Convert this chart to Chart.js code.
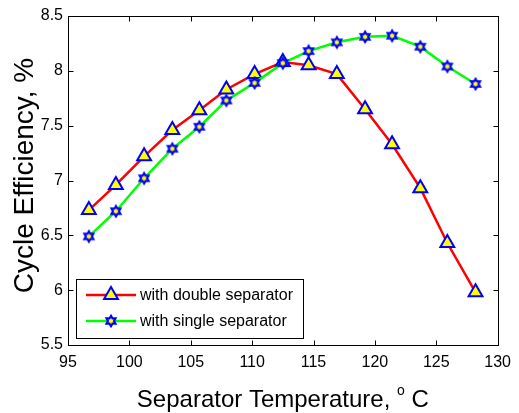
<!DOCTYPE html>
<html lang="en">
<head>
<meta charset="UTF-8">
<title>Cycle Efficiency vs Separator Temperature</title>
<script src="https://cdn.jsdelivr.net/npm/chart.js"></script>
<style>
    html, body { margin: 0; padding: 0; background: #fff; }
    #wrap { width: 519px; height: 413px; }
</style>
</head>
<body>
<div id="wrap"><canvas id="grafico" width="519" height="413"></canvas></div>
<script>
    // temperatures (deg C)
    const temperaturas = [96.7, 98.9, 101.2, 103.5, 105.7, 107.9, 110.2, 112.5, 114.6, 116.9, 119.2, 121.4, 123.7, 125.9, 128.2];
    // cycle efficiency, %
    const duploSeparador = [6.73, 6.96, 7.22, 7.46, 7.64, 7.83, 7.97, 8.08, 8.05, 7.97, 7.65, 7.33, 6.93, 6.43, 5.98];
    const simplesSeparador = [6.49, 6.72, 7.02, 7.29, 7.49, 7.73, 7.89, 8.07, 8.18, 8.26, 8.31, 8.32, 8.22, 8.04, 7.88];
    const nomesSeries = ['with double separator', 'with single separator'];
    const xTicks = [95, 100, 105, 110, 115, 120, 125, 130];
    const yTicks = [5.5, 6, 6.5, 7, 7.5, 8, 8.5];

    const fonte = '"Liberation Sans", Arial, sans-serif';

    // hexagram marker (matlab 'h'): yellow face, thick blue edge
    const criarEstrela = () => {
        const cv = document.createElement('canvas');
        cv.width = 18;
        cv.height = 18;
        const c = cv.getContext('2d');
        const R = 5.2;
        c.beginPath();
        for (let i = 0; i < 12; i++) {
            const ang = -Math.PI / 2 + i * Math.PI / 6;
            const r = i % 2 === 0 ? R : R / Math.sqrt(3);
            const px = 9 + Math.cos(ang) * r;
            const py = 9 + Math.sin(ang) * r;
            if (i === 0) c.moveTo(px, py); else c.lineTo(px, py);
        }
        c.closePath();
        c.fillStyle = '#FFFF00';
        c.fill();
        c.lineWidth = 2.1;
        c.lineJoin = 'miter';
        c.strokeStyle = '#0000FF';
        c.stroke();
        return cv;
    };
    const estrela = criarEstrela();

    const pontos = (ys) => temperaturas.map((t, i) => ({ x: t, y: ys[i] }));

    // box + inward ticks like matlab axes
    const moldura = {
        id: 'moldura',
        beforeDatasetsDraw(chart) {
            const { ctx, chartArea: a, scales } = chart;
            const L = Math.round(a.left) + 0.5, R = Math.round(a.right) + 0.5;
            const T = Math.round(a.top) + 0.5, B = Math.round(a.bottom) + 0.5;
            ctx.save();
            ctx.strokeStyle = '#000';
            ctx.lineWidth = 1;
            ctx.strokeRect(L, T, R - L, B - T);
            ctx.beginPath();
            xTicks.forEach(v => {
                const px = Math.round(scales.x.getPixelForValue(v)) + 0.5;
                ctx.moveTo(px, B); ctx.lineTo(px, B - 5);
                ctx.moveTo(px, T); ctx.lineTo(px, T + 5);
            });
            yTicks.forEach(v => {
                const py = Math.round(scales.y.getPixelForValue(v)) + 0.5;
                ctx.moveTo(L, py); ctx.lineTo(L + 5, py);
                ctx.moveTo(R, py); ctx.lineTo(R - 5, py);
            });
            ctx.stroke();
            ctx.restore();
        },
        afterDraw(chart) {
            const { ctx, chartArea: a } = chart;
            ctx.save();
            ctx.fillStyle = '#000';

            // x title with superscript o
            const t1 = 'Separator Temperature, ';
            const t2 = 'o';
            const t3 = ' C';
            ctx.font = `24px ${fonte}`;
            const w1 = ctx.measureText(t1).width;
            const w3 = ctx.measureText(t3).width;
            ctx.font = `14px ${fonte}`;
            const w2 = ctx.measureText(t2).width;
            const total = w1 + w2 + w3;
            const x0 = (a.left + a.right) / 2 - total / 2;
            const base = 407;
            ctx.textBaseline = 'alphabetic';
            ctx.textAlign = 'left';
            ctx.font = `24px ${fonte}`;
            ctx.fillText(t1, x0, base);
            ctx.font = `14px ${fonte}`;
            ctx.fillText(t2, x0 + w1, base - 12);
            ctx.font = `24px ${fonte}`;
            ctx.fillText(t3, x0 + w1 + w2, base);

            // y title
            ctx.translate(33, (a.top + a.bottom) / 2 - 5);
            ctx.rotate(-Math.PI / 2);
            ctx.textAlign = 'center';
            ctx.font = `28px ${fonte}`;
            ctx.fillText('Cycle Efficiency, %', 0, 0);
            ctx.restore();

            // legend box
            ctx.save();
            const bx = 76.5, by = 279.5, bw = 227, bh = 59;
            ctx.fillStyle = '#fff';
            ctx.fillRect(bx, by, bw, bh);
            ctx.strokeStyle = '#000';
            ctx.lineWidth = 1;
            ctx.strokeRect(bx, by, bw, bh);
            const linhas = [295, 321];
            chart.data.datasets.forEach((ds, i) => {
                const y = linhas[i];
                ctx.strokeStyle = ds.borderColor;
                ctx.lineWidth = ds.borderWidth;
                ctx.beginPath();
                ctx.moveTo(86, y);
                ctx.lineTo(136, y);
                ctx.stroke();
                ctx.fillStyle = ds.pointBackgroundColor;
                ctx.strokeStyle = ds.pointBorderColor;
                ctx.lineWidth = ds.pointBorderWidth;
                Chart.helpers.drawPoint(ctx, {
                    pointStyle: ds.pointStyle,
                    rotation: 0,
                    radius: ds.pointRadius,
                    borderWidth: ds.pointBorderWidth
                }, 111, y);
                ctx.fillStyle = '#000';
                ctx.font = `16px ${fonte}`;
                ctx.textAlign = 'left';
                ctx.textBaseline = 'middle';
                ctx.fillText(ds.label, 140, y + 1);
            });
            ctx.restore();
        }
    };

    new Chart(document.getElementById('grafico'), {
        type: 'line',
        data: {
            datasets: [{
                label: nomesSeries[0],
                data: pontos(duploSeparador),
                borderColor: '#FF0000',
                borderWidth: 2.5,
                pointStyle: 'triangle',
                pointRadius: 8,
                pointBorderWidth: 2,
                pointBackgroundColor: '#FFFF00',
                pointBorderColor: '#0000FF',
                tension: 0,
                order: 1
            }, {
                label: nomesSeries[1],
                data: pontos(simplesSeparador),
                borderColor: '#00FF00',
                borderWidth: 2.5,
                pointStyle: estrela,
                pointRadius: 7,
                pointBorderWidth: 0,
                pointBackgroundColor: '#FFFF00',
                pointBorderColor: '#0000FF',
                tension: 0,
                order: 0
            }]
        },
        options: {
            responsive: false,
            animation: false,
            devicePixelRatio: 1,
            layout: { padding: { top: 16, right: 15, left: 0, bottom: 0 } },
            plugins: {
                legend: { display: false },
                tooltip: { enabled: false }
            },
            scales: {
                x: {
                    type: 'linear',
                    min: 95,
                    max: 130,
                    afterFit: (s) => { s.height = 68; },
                    afterBuildTicks: (s) => { s.ticks = xTicks.map(v => ({ value: v })); },
                    grid: { display: false, drawTicks: false },
                    border: { display: false },
                    ticks: {
                        padding: 8,
                        color: '#000',
                        maxRotation: 0,
                        font: { family: fonte, size: 16 },
                        callback: (v) => String(v)
                    }
                },
                y: {
                    min: 5.5,
                    max: 8.5,
                    afterFit: (s) => { s.width = 68; },
                    afterBuildTicks: (s) => { s.ticks = yTicks.map(v => ({ value: v })); },
                    grid: { display: false, drawTicks: false },
                    border: { display: false },
                    ticks: {
                        padding: 5,
                        color: '#000',
                        font: { family: fonte, size: 16 },
                        callback: (v) => String(v)
                    }
                }
            }
        },
        plugins: [moldura]
    });
</script>
</body>
</html>
